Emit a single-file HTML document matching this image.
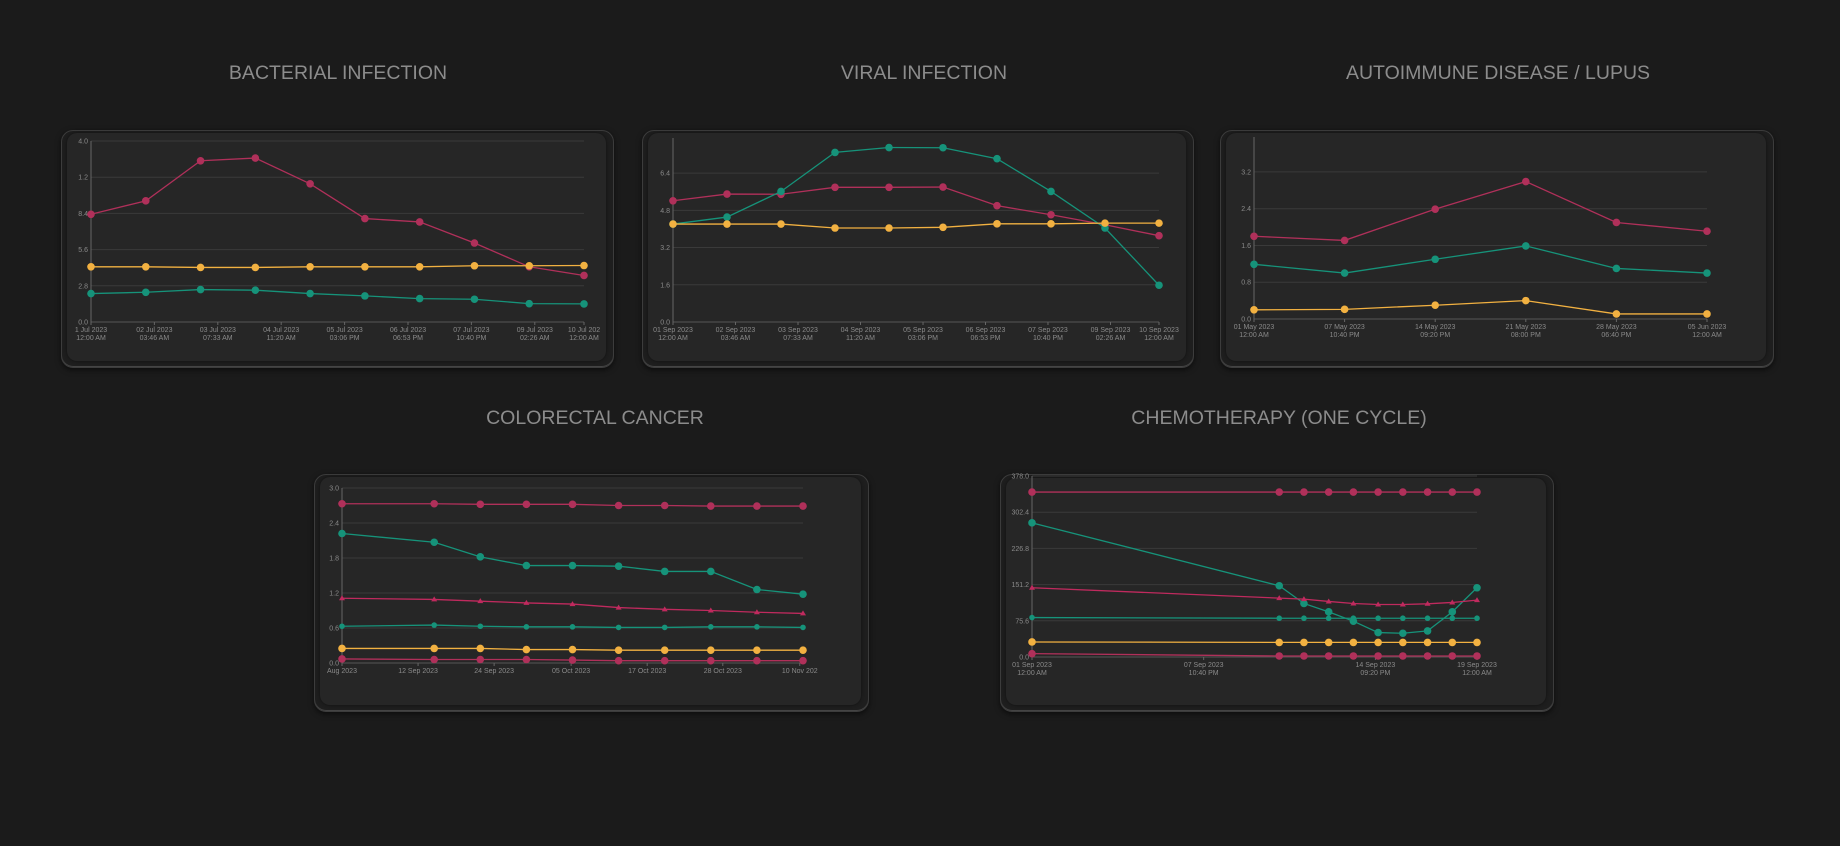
<!DOCTYPE html>
<html><head><meta charset="utf-8">
<style>
html,body{margin:0;padding:0;background:#1b1b1b;width:1840px;height:846px;overflow:hidden;font-family:"Liberation Sans",sans-serif;}
.title{position:absolute;color:#8c8c8c;font-size:19.5px;transform:translateX(-50%);white-space:nowrap;line-height:1;}
.frame{position:absolute;border-radius:12px;background:#1e1e1e;border:1px solid #3c3c3c;box-shadow:0 2px 6px rgba(0,0,0,.6), inset 0 -1px 0 #444;}
.panel{position:absolute;border-radius:10px;background:#262626;box-shadow:0 0 3px rgba(0,0,0,.5);}
svg{position:absolute;left:0;top:0;}
</style></head>
<body>
<div class="title" style="left:338px;top:64px">BACTERIAL INFECTION</div>
<div class="title" style="left:924px;top:64px">VIRAL INFECTION</div>
<div class="title" style="left:1498px;top:64px">AUTOIMMUNE DISEASE / LUPUS</div>
<div class="title" style="left:595px;top:409px">COLORECTAL CANCER</div>
<div class="title" style="left:1279px;top:409px">CHEMOTHERAPY (ONE CYCLE)</div>

<div class="frame" style="left:61px;top:130px;width:551px;height:236px"></div>
<div class="panel" style="left:67px;top:133px;width:539px;height:228px"></div>
<div class="frame" style="left:642px;top:130px;width:550px;height:236px"></div>
<div class="panel" style="left:648px;top:133px;width:538px;height:228px"></div>
<div class="frame" style="left:1220px;top:130px;width:552px;height:236px"></div>
<div class="panel" style="left:1226px;top:133px;width:540px;height:228px"></div>
<div class="frame" style="left:314px;top:474px;width:553px;height:236px"></div>
<div class="panel" style="left:320px;top:477px;width:541px;height:228px"></div>
<div class="frame" style="left:1000px;top:474px;width:552px;height:236px"></div>
<div class="panel" style="left:1006px;top:478px;width:540px;height:227px"></div>

<svg id="chart" width="1840" height="846"></svg>

<script>
// ---- data ----
const bactX = [0,1,2,3,4,5,6,7,8,9];
const bactRed = [8.33,9.37,12.47,12.68,10.69,8.0,7.74,6.11,4.27,3.6];
const bactYellow = [4.27,4.27,4.22,4.22,4.27,4.27,4.27,4.35,4.35,4.37];
const bactGreen = [2.2,2.3,2.51,2.46,2.2,2.02,1.81,1.76,1.42,1.40];
const bactYTicks = ["0.0","2.8","5.6","8.4","1.2","4.0"];
const bactXTicks = [["1 Jul 2023","12:00 AM"],["02 Jul 2023","03:46 AM"],["03 Jul 2023","07:33 AM"],["04 Jul 2023","11:20 AM"],["05 Jul 2023","03:06 PM"],["06 Jul 2023","06:53 PM"],["07 Jul 2023","10:40 PM"],["09 Jul 2023","02:26 AM"],["10 Jul 202","12:00 AM"]];

const viralX = [0,1,2,3,4,5,6,7,8,9];
const viralRed = [5.21,5.50,5.49,5.79,5.79,5.80,5.00,4.61,4.18,3.71];
const viralGreen = [4.21,4.51,5.61,7.29,7.50,7.49,7.02,5.61,4.04,1.58];
const viralYellow = [4.21,4.21,4.21,4.04,4.04,4.07,4.22,4.22,4.25,4.25];
const viralYTicks = ["0.0","1.6","3.2","4.8","6.4"];
const viralXTicks = [["01 Sep 2023","12:00 AM"],["02 Sep 2023","03:46 AM"],["03 Sep 2023","07:33 AM"],["04 Sep 2023","11:20 AM"],["05 Sep 2023","03:06 PM"],["06 Sep 2023","06:53 PM"],["07 Sep 2023","10:40 PM"],["09 Sep 2023","02:26 AM"],["10 Sep 2023","12:00 AM"]];

const lupusX = [0,1,2,3,4,5];
const lupusRed = [1.80,1.71,2.39,2.99,2.10,1.91];
const lupusGreen = [1.19,1.00,1.30,1.59,1.10,1.00];
const lupusYellow = [0.20,0.21,0.30,0.40,0.11,0.11];
const lupusYTicks = ["0.0","0.8","1.6","2.4","3.2"];
const lupusXTicks = [["01 May 2023","12:00 AM"],["07 May 2023","10:40 PM"],["14 May 2023","09:20 PM"],["21 May 2023","08:00 PM"],["28 May 2023","06:40 PM"],["05 Jun 2023","12:00 AM"]];

const crcX = [0,2,3,4,5,6,7,8,9,10];
const crcRedTop = [2.73,2.73,2.72,2.72,2.72,2.70,2.70,2.69,2.69,2.69];
const crcGreenBig = [2.22,2.07,1.82,1.67,1.67,1.66,1.57,1.57,1.26,1.18];
const crcRedTri = [1.11,1.09,1.06,1.03,1.01,0.95,0.92,0.90,0.87,0.85];
const crcGreenSmall = [0.63,0.65,0.63,0.62,0.62,0.61,0.61,0.62,0.62,0.61];
const crcYellow = [0.25,0.25,0.25,0.23,0.23,0.22,0.22,0.22,0.22,0.22];
const crcRedBottom = [0.07,0.06,0.06,0.06,0.05,0.04,0.04,0.04,0.04,0.04];
const crcYTicks = ["0.0","0.6","1.2","1.8","2.4","3.0"];
const crcXTicks = [["Aug 2023"],["12 Sep 2023"],["24 Sep 2023"],["05 Oct 2023"],["17 Oct 2023"],["28 Oct 2023"],["10 Nov 202"]];

const chemoX = [0,10,11,12,13,14,15,16,17,18];
const chemoRedTop = [344.5,344.5,344.5,344.5,344.5,344.5,344.5,344.5,344.5,344.5];
const chemoGreenBig = [280.2,148.8,111.8,94.3,74.8,51.0,49.6,54.5,94.3,144.6];
const chemoRedTri = [144.6,123.0,120.9,116.0,111.8,109.7,109.7,111.1,113.9,118.8];
const chemoGreenSmall = [82.4,81,81,81,81,81,81,81,81,81];
const chemoYellow = [31.4,30.5,30.5,30.5,30.5,30.5,30.5,30.5,30.5,30.5];
const chemoRedBottom = [7.0,2.1,2.1,2.1,2.1,2.1,2.1,2.1,2.1,2.1];
const chemoYTicks = ["0.0","75.6","151.2","226.8","302.4","378.0"];
const chemoXTicks = [["01 Sep 2023","12:00 AM"],["07 Sep 2023","10:40 PM"],["14 Sep 2023","09:20 PM"],["19 Sep 2023","12:00 AM"]];

const RED="#b0305a", GREEN="#16937a", YEL="#f2b141";
const svg=document.getElementById('chart');
const NS="http://www.w3.org/2000/svg";
function mk(tag,attrs){const e=document.createElementNS(NS,tag);for(const k in attrs)e.setAttribute(k,attrs[k]);svg.appendChild(e);return e;}

function chart(cfg){
  const {name,left,right,top,bottom,ymax,xmin,xmax}=cfg;
  const sx=v=>left+(v-xmin)/(xmax-xmin)*(right-left);
  const sy=v=>bottom-v/ymax*(bottom-top);
  cfg.yTicks.forEach((t,i)=>{
    const v=i*cfg.yStep, y=sy(v);
    const g=mk('line',{x1:left,x2:right,y1:y,y2:y,stroke:i==0?"#555":"#3a3a3a","stroke-width":1});
    
    
    const tx=mk('text',{x:left-3,y:y+2.5,fill:"#8a8a8a","font-size":7,"text-anchor":"end"});
    tx.textContent=t;
    
    
  });
  const ax=mk('line',{x1:left,x2:left,y1:cfg.axisTop,y2:bottom,stroke:"#666","stroke-width":1});
  
  
  cfg.xTicks.forEach((lab,i)=>{
    const x=sx(cfg.xTickPos[i]);
    const tm=mk('line',{x1:x,x2:x,y1:bottom,y2:bottom+3,stroke:"#666"});
    
    
    lab.forEach((l,j)=>{
      const t=mk('text',{x:x,y:bottom+10+j*8,fill:"#8a8a8a","font-size":7,"text-anchor":"middle"});
      t.textContent=l;
      
      
    });
  });
  cfg.series.forEach(s=>{
    const pts=cfg.x.map((xv,i)=>sx(xv)+","+sy(s.v[i])).join(" ");
    const pl=mk('polyline',{points:pts,fill:"none",stroke:s.c,"stroke-width":1.3});
    
    
    cfg.x.forEach((xv,i)=>{
      const cx=sx(xv), cy=sy(s.v[i]);
      let m;
      if(s.tri){
        m=mk('polygon',{points:`${cx},${cy-3} ${cx-3},${cy+2} ${cx+3},${cy+2}`,fill:s.c});
      } else {
        m=mk('circle',{cx:cx,cy:cy,r:s.r||3.8,fill:s.c});
      }
      
      
    });
  });
}

chart({name:"bacterial",left:91,right:584,top:141,bottom:322,axisTop:141,ymax:14,yStep:2.8,xmin:0,xmax:9,
  yTicks:bactYTicks,xTicks:bactXTicks,xTickPos:[0,1.157,2.315,3.472,4.63,5.787,6.944,8.102,9],x:bactX,
  series:[{n:"red",v:bactRed,c:RED},{n:"yellow",v:bactYellow,c:YEL},{n:"green",v:bactGreen,c:GREEN}]});
chart({name:"viral",left:673,right:1159,top:141,bottom:322,axisTop:138,ymax:7.78,yStep:1.6,xmin:0,xmax:9,
  yTicks:viralYTicks,xTicks:viralXTicks,xTickPos:[0,1.157,2.315,3.472,4.63,5.787,6.944,8.102,9],x:viralX,
  series:[{n:"red",v:viralRed,c:RED},{n:"green",v:viralGreen,c:GREEN},{n:"yellow",v:viralYellow,c:YEL}]});
chart({name:"lupus",left:1254,right:1707,top:137,bottom:319,axisTop:137,ymax:3.96,yStep:0.8,xmin:0,xmax:5,
  yTicks:lupusYTicks,xTicks:lupusXTicks,xTickPos:[0,1,2,3,4,5],x:lupusX,
  series:[{n:"red",v:lupusRed,c:RED},{n:"green",v:lupusGreen,c:GREEN},{n:"yellow",v:lupusYellow,c:YEL}]});
chart({name:"colorectal",left:342,right:803,top:488,bottom:663,axisTop:488,ymax:3.0,yStep:0.6,xmin:0,xmax:10,
  yTicks:crcYTicks,xTicks:crcXTicks,xTickPos:[0,1.65,3.3,4.97,6.62,8.26,9.93],x:crcX,
  series:[{n:"red-top",v:crcRedTop,c:RED},{n:"green-big",v:crcGreenBig,c:GREEN},{n:"red-triangle",v:crcRedTri,c:"#c02a5e",tri:true},
    {n:"green-small",v:crcGreenSmall,c:GREEN,r:2.8},{n:"yellow",v:crcYellow,c:YEL},{n:"red-bottom",v:crcRedBottom,c:RED}]});
chart({name:"chemo",left:1032,right:1477,top:476,bottom:657,axisTop:476,ymax:378,yStep:75.6,xmin:0,xmax:18,
  yTicks:chemoYTicks,xTicks:chemoXTicks,xTickPos:[0,6.944,13.89,18],x:chemoX,
  series:[{n:"red-top",v:chemoRedTop,c:RED},{n:"green-big",v:chemoGreenBig,c:GREEN},{n:"red-triangle",v:chemoRedTri,c:"#c02a5e",tri:true},
    {n:"green-small",v:chemoGreenSmall,c:GREEN,r:2.8},{n:"yellow",v:chemoYellow,c:YEL},{n:"red-bottom",v:chemoRedBottom,c:RED}]});
</script>
</body></html>
